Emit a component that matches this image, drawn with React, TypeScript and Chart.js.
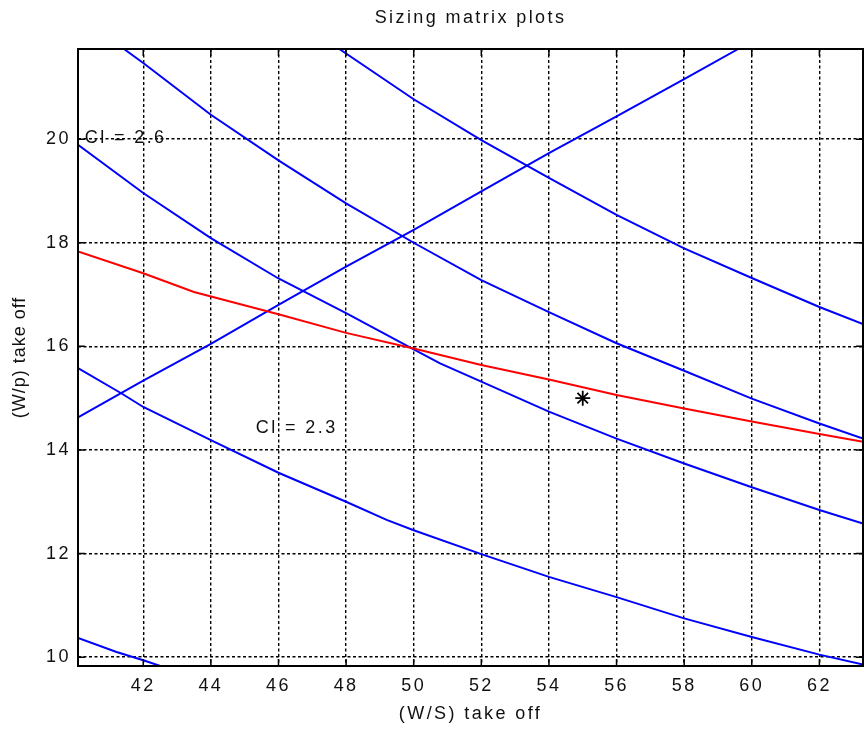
import React, { useEffect, useRef } from 'react';
import { Chart, registerables } from 'chart.js';

Chart.register(...registerables);

// ---- Text ----
const TITLE = 'Sizing matrix plots';
const X_LABEL = '(W/S) take off';
const Y_LABEL = '(W/p) take off';

// ---- Axes ----
const X_MIN = 40.07;
const X_MAX = 63.29;
const Y_MIN = 9.83;
const Y_MAX = 21.74;
const X_TICKS = [42, 44, 46, 48, 50, 52, 54, 56, 58, 60, 62];
const Y_TICKS = [10, 12, 14, 16, 18, 20];

// ---- Series ----
const RISE_X = [40.07, 42, 44, 46, 48, 50, 52, 54, 56, 58, 59.6];
const RISE_Y = [14.63, 15.34, 16.05, 16.8, 17.54, 18.25, 18.99, 19.73, 20.44, 21.16, 21.74];

const TOP_X = [47.8, 50, 52, 54, 56, 58, 60, 62, 63.29];
const TOP_Y = [21.74, 20.77, 19.98, 19.25, 18.54, 17.89, 17.32, 16.76, 16.43];

const UPPER_X = [41.43, 42, 44, 46, 48, 50, 52, 54, 56, 58, 60, 62, 63.29];
const UPPER_Y = [21.74, 21.47, 20.47, 19.59, 18.76, 18.0, 17.28, 16.66, 16.06, 15.53, 14.99, 14.51, 14.22];

const MID_X = [40.07, 42, 44, 46, 48, 50, 50.78, 52, 54, 56, 58, 60, 62, 63.29];
const MID_Y = [19.89, 18.96, 18.09, 17.31, 16.64, 15.94, 15.67, 15.32, 14.74, 14.22, 13.74, 13.28, 12.84, 12.58];

const LOW_X = [40.07, 41.36, 42, 44, 46, 48, 49.2, 50, 52, 54, 56, 58, 60, 62, 63.29];
const LOW_Y = [15.58, 15.09, 14.83, 14.19, 13.56, 13.0, 12.65, 12.45, 11.99, 11.55, 11.16, 10.75, 10.39, 10.05, 9.86];

const BOTTOM_X = [40.07, 41.21, 42, 42.6];
const BOTTOM_Y = [10.37, 10.1, 9.94, 9.81];

const RED_X = [40.07, 42, 43.5, 46, 48, 50, 52, 54, 56, 58, 60, 62, 63.29];
const RED_Y = [17.83, 17.41, 17.05, 16.62, 16.26, 15.96, 15.64, 15.36, 15.06, 14.8, 14.55, 14.31, 14.16];

const DESIGN_X = [55];
const DESIGN_Y = [15];

const NOTE_TEXT = ['Cl = 2.6', 'Cl = 2.3'];
const NOTE_X = [40.27, 45.33];
const NOTE_Y = [20.03, 14.42];

const FONT_FAMILY = '"Liberation Sans", Arial, Helvetica, sans-serif';
const TEXT_COLOR = '#111';

const pts = (xs: number[], ys: number[]) => xs.map((x, i) => ({ x, y: ys[i] }));

const lineDs = (label: string, xs: number[], ys: number[], color: string) => ({
  label,
  data: pts(xs, ys),
  showLine: true,
  borderColor: color,
  backgroundColor: color,
  borderWidth: 2,
  pointRadius: 0,
  pointHoverRadius: 0,
  tension: 0,
  clip: 0,
});

const framePlugin = {
  id: 'frame',
  beforeDraw(chart: any) {
    const ctx = chart.ctx;
    ctx.letterSpacing = '2.4px';
    const ys = chart.scales.y;
    if (ys && !ys.__lsPatched) {
      const orig = ys.drawTitle;
      ys.drawTitle = function (...args: any[]) {
        const c = this.ctx;
        const prev = c.letterSpacing;
        c.letterSpacing = '1px';
        orig.apply(this, args);
        c.letterSpacing = prev;
      };
      ys.__lsPatched = true;
    }
  },
  afterDatasetsDraw(chart: any) {
    const { ctx, chartArea: a } = chart;
    const x = chart.scales.x;
    const y = chart.scales.y;
    ctx.save();
    ctx.setLineDash([]);
    ctx.strokeStyle = '#000';
    ctx.lineWidth = 2;
    ctx.strokeRect(a.left, a.top, a.right - a.left, a.bottom - a.top);
    const TL = 7;
    ctx.lineWidth = 1.5;
    ctx.beginPath();
    x.ticks.forEach((t: any) => {
      const px = x.getPixelForValue(t.value);
      ctx.moveTo(px, a.bottom);
      ctx.lineTo(px, a.bottom - TL);
      ctx.moveTo(px, a.top);
      ctx.lineTo(px, a.top + TL);
    });
    y.ticks.forEach((t: any) => {
      const py = y.getPixelForValue(t.value);
      ctx.moveTo(a.left, py);
      ctx.lineTo(a.left + TL, py);
      ctx.moveTo(a.right, py);
      ctx.lineTo(a.right - TL, py);
    });
    ctx.stroke();

    ctx.font = `18px ${FONT_FAMILY}`;
    ctx.fillStyle = TEXT_COLOR;
    ctx.textAlign = 'left';
    ctx.textBaseline = 'middle';
    ctx.letterSpacing = '2.4px';
    NOTE_TEXT.forEach((t, i) => {
      ctx.fillText(t, x.getPixelForValue(NOTE_X[i]), y.getPixelForValue(NOTE_Y[i]));
    });
    ctx.restore();
  },
};

export default function App() {
  const canvasRef = useRef<HTMLCanvasElement | null>(null);

  useEffect(() => {
    const canvas = canvasRef.current;
    if (!canvas) return;
    const font = { family: FONT_FAMILY, size: 18, weight: 'normal' as const };
    const grid = { color: '#000', lineWidth: 1.4, drawTicks: false };
    const border = { display: false, dash: [3, 2.5] };

    const chart = new Chart(canvas, {
      type: 'scatter',
      data: {
        datasets: [
          {
            label: 'Design point',
            data: pts(DESIGN_X, DESIGN_Y),
            showLine: false,
            pointStyle: 'star',
            pointRadius: 7.5,
            pointHoverRadius: 7.5,
            borderColor: '#000',
            backgroundColor: '#000',
            borderWidth: 1.8,
          } as any,
          lineDs('Red', RED_X, RED_Y, '#ff0000'),
          lineDs('Rise', RISE_X, RISE_Y, '#0000ff'),
          lineDs('Top', TOP_X, TOP_Y, '#0000ff'),
          lineDs('Upper', UPPER_X, UPPER_Y, '#0000ff'),
          lineDs('Mid', MID_X, MID_Y, '#0000ff'),
          lineDs('Low', LOW_X, LOW_Y, '#0000ff'),
          lineDs('Bottom', BOTTOM_X, BOTTOM_Y, '#0000ff'),
        ],
      },
      options: {
        responsive: false,
        animation: false,
        devicePixelRatio: 1,
        layout: { autoPadding: false, padding: { top: 0, right: 1, bottom: 0, left: 0 } },
        plugins: {
          legend: { display: false },
          tooltip: { enabled: false },
          title: {
            display: true,
            text: TITLE,
            fullSize: false,
            color: TEXT_COLOR,
            font,
            padding: { top: 7.2, bottom: 20.2 },
          },
        },
        scales: {
          x: {
            type: 'linear',
            position: 'bottom',
            min: X_MIN,
            max: X_MAX,
            afterBuildTicks: (s: any) => {
              s.ticks = X_TICKS.map((v) => ({ value: v }));
            },
            afterFit: (s: any) => {
              s.height = 63;
            },
            grid,
            border,
            ticks: {
              padding: 9.2,
              color: TEXT_COLOR,
              font,
              maxRotation: 0,
              autoSkip: false,
              callback: (v: any) => String(v),
            },
            title: {
              display: true,
              text: X_LABEL,
              color: TEXT_COLOR,
              font,
              padding: { top: 0, bottom: 4.2 },
            },
          },
          y: {
            type: 'linear',
            position: 'left',
            min: Y_MIN,
            max: Y_MAX,
            afterBuildTicks: (s: any) => {
              s.ticks = Y_TICKS.map((v) => ({ value: v }));
            },
            afterFit: (s: any) => {
              s.width = 78;
            },
            grid,
            border,
            ticks: {
              padding: 7.2,
              color: TEXT_COLOR,
              font,
              autoSkip: false,
              callback: (v: any) => String(v),
            },
            title: {
              display: true,
              text: Y_LABEL,
              color: TEXT_COLOR,
              font,
              padding: { top: 9.7, bottom: 0 },
            },
          },
        },
      } as any,
      plugins: [framePlugin as any],
    });

    return () => {
      chart.destroy();
    };
  }, []);

  return (
    <div style={{ position: 'absolute', left: 0, top: 0, width: 864, height: 729, background: '#fff' }}>
      <canvas ref={canvasRef} width={864} height={729} style={{ display: 'block' }} />
    </div>
  );
}
